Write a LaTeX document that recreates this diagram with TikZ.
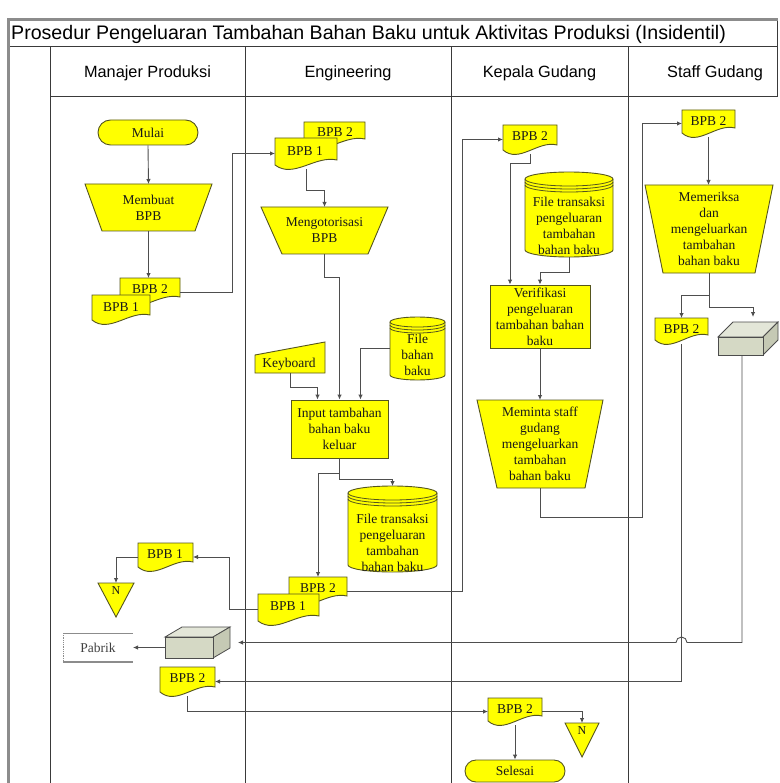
\documentclass[tikz,border=0pt]{standalone}
\usepackage{fontspec}
\setmainfont{Liberation Serif}
\newfontfamily\headfont{Liberation Sans}
\usetikzlibrary{arrows.meta,calc,fit,shapes.misc}

\definecolor{docyellow}{HTML}{FFFF00}
\definecolor{shapeedge}{HTML}{55551E}
\definecolor{wire}{HTML}{4E4E4E}
\definecolor{laneline}{HTML}{3A3A3A}
\definecolor{framegray}{HTML}{8C8C8C}
\definecolor{boxfront}{HTML}{D5D9C5}
\definecolor{boxtop}{HTML}{E3E6D8}
\definecolor{boxside}{HTML}{C5C9B4}

\tikzset{
  fig/.style={draw=shapeedge, line width=0.9pt, fill=docyellow},
  edge/.style={draw=shapeedge, line width=0.8pt},
  holder/.style={inner sep=0pt, outer sep=0pt, draw=none},
  txt/.style={font=\fontsize{13.5}{16}\selectfont, align=center, inner sep=0pt, text=black!90},
  flow/.style={draw=wire, line width=0.9pt, -{Latex[length=5pt,width=4.5pt]}},
  terminal/.style={rounded rectangle, fig, txt, minimum width=100pt, minimum height=25pt},
  process/.style={rectangle, fig, txt},
  lane/.style={draw=laneline, line width=1pt},
  border/.style={draw=framegray, line width=3pt},
  headtxt/.style={font=\headfont\fontsize{16.3}{18}\selectfont, inner sep=0pt},
  boxedge/.style={draw=black!70, line width=0.8pt},
}

% document symbol: name, x1, y1, x2, y2 (left lower corner), text x, text y, text
\newcommand\docsym[8]{%
  \path[fig] (#2,#3) -- (#4,#3) -- (#4,{#5-5})
    .. controls ({#4-0.35*(#4-#2)},{#5-10}) and ({#2+0.3*(#4-#2)},{#5+14}) .. (#2,#5) -- cycle;
  \node[holder, fit={(#2,#3) (#4,{#5+4})}] (#1) {};
  \node[txt] (#1-t) at (#6,#7) {#8};
}

% manual operation: name, top-left x, top-right x, top y, bottom-left x, bottom-right x, bottom y, text
\newcommand\manop[8]{%
  \path[fig] (#2,#4) -- (#3,#4) -- (#6,#7) -- (#5,#7) -- cycle;
  \node[holder, fit={(#2,#4) (#3,#7)}] (#1) {};
  \node[txt] (#1-t) at (#1.center) {#8};
}

% disk storage: name, x1, x2, top y, bottom y, end radius, text y, text
\newcommand\drum[8]{%
  \pgfmathsetmacro\drumrx{(#3-#2)/2}%
  \path[fig] (#2,{#4+#6}) -- (#2,{#5-#6})
    arc[start angle=180, end angle=360, x radius=\drumrx pt, y radius=#6pt]
    -- (#3,{#4+#6})
    arc[start angle=0, end angle=180, x radius=\drumrx pt, y radius=#6pt] -- cycle;
  \draw[edge] (#2,{#4+#6}) arc[start angle=180, end angle=360, x radius=\drumrx pt, y radius=#6pt];
  \draw[edge] (#2,{#4+#6+3}) arc[start angle=180, end angle=360, x radius=\drumrx pt, y radius=#6pt];
  \draw[edge] (#2,{#4+#6+6}) arc[start angle=180, end angle=360, x radius=\drumrx pt, y radius=#6pt];
  \node[holder, fit={(#2,#4) (#3,#5)}] (#1) {};
  \node[txt] (#1-t) at ({(#2+#3)/2},#7) {#8};
}

% shipped goods box: name, front x1, y1, x2, y2, depth x, depth y
\newcommand\goodsbox[7]{%
  \path[boxedge, fill=boxtop] (#2,#3) -- ({#2+#6},{#3-#7}) -- ({#4+#6},{#3-#7}) -- (#4,#3) -- cycle;
  \path[boxedge, fill=boxside] (#4,#3) -- ({#4+#6},{#3-#7}) -- ({#4+#6},{#5-#7}) -- (#4,#5) -- cycle;
  \path[boxedge, fill=boxfront] (#2,#3) rectangle (#4,#5);
}

\begin{document}
\begin{tikzpicture}[x=1pt,y=-1pt]
\useasboundingbox (0,0) rectangle (779,783);
\fill[white] (0,0) rectangle (779,783);

% ---------- table frame ----------
\draw[lane] (8,47) -- (777,47);
\draw[lane] (50,97) -- (777,97);
\draw[lane] (777,20) -- (777,97);
\foreach \lx in {50,245,451,628} \draw[lane] (\lx,47) -- (\lx,783);
\draw[border] (8,783) -- (8,20) -- (778,20);

\node[headtxt, font=\headfont\fontsize{19.6}{22}\selectfont, anchor=west] (title) at (11,34)
  {Prosedur Pengeluaran Tambahan Bahan Baku untuk Aktivitas Produksi (Insidentil)};
\node[headtxt] (hManajer) at (147.5,73) {Manajer Produksi};
\node[headtxt] (hEng) at (348,73) {Engineering};
\node[headtxt] (hKepala) at (539.5,73) {Kepala Gudang};
\node[headtxt] (hStaff) at (715,73) {Staff Gudang};

% ---------- Manajer Produksi ----------
\node[terminal] (mulai) at (148,132.5) {Mulai};
\manop{membuat}{85}{212}{184}{102}{195}{231}{Membuat\\BPB}
\docsym{mBPB2}{120}{278}{180}{302}{150}{289}{BPB 2}
\docsym{mBPB1}{92}{295}{150}{320}{121}{307}{BPB 1}

\docsym{mBPB1l}{138}{543}{193}{567}{165}{554}{BPB 1}
\path[fig] (98,583) -- (134,583) -- (116,617) -- cycle;
\node[holder, fit={(98,583) (134,617)}] (nA) {};
\node[txt, font=\fontsize{12}{14}\selectfont] (nA-t) at (116,591) {N};

\goodsbox{mCubeShape}{165}{637}{213}{658}{17}{10}
\node[holder, fit={(165,627) (238,658)}] (mCube) {};

\draw[draw=framegray, line width=0.9pt] (63,633) -- (133,633);
\draw[draw=framegray, line width=2pt] (63,662) -- (133,662);
\draw[draw=framegray, line width=0.8pt, densely dotted] (63,633) -- (63,662);
\node[holder, fit={(63,633) (133,662)}] (pabrik) {};
\node[txt, text=black!75] (pabrik-t) at (pabrik.center) {Pabrik};

\docsym{mBPB2l}{160}{667}{215}{692}{187.5}{678}{BPB 2}

% ---------- Engineering ----------
\docsym{eBPB2}{304}{122}{365}{144}{335}{132}{BPB 2}
\docsym{eBPB1}{275}{138}{337}{165}{305}{151}{BPB 1}
\manop{otor}{261}{388}{207}{282}{368}{254}{Mengotorisasi\\BPB}

\path[fig] (255,355) -- (325,342) -- (325,373) -- (255,373) -- cycle;
\node[holder, fit={(255,342) (325,373)}] (kbd) {};
\node[txt] (kbd-t) at (289,364) {Keyboard};

\drum{fileB}{390}{445}{317}{380}{5}{355}{File\\bahan\\baku}
\node[process, minimum width=97pt, minimum height=58pt] (input) at (339.5,429)
  {Input tambahan\\bahan baku\\keluar};
\drum{fileTE}{348}{437}{486}{572}{7}{543}{File transaksi\\pengeluaran\\tambahan\\bahan baku}

\docsym{eBPB2l}{289}{577}{347}{601}{318}{588}{BPB 2}
\docsym{eBPB1l}{258}{594}{319}{621}{288}{606}{BPB 1}

% ---------- Kepala Gudang ----------
\docsym{kBPB2}{503}{125}{557}{150}{530}{136}{BPB 2}
\drum{fileTK}{525}{613}{172}{257}{7}{226}{File transaksi\\pengeluaran\\tambahan\\bahan baku}
\node[process, minimum width=100pt, minimum height=63pt] (verif) at (540,316.5)
  {Verifikasi\\pengeluaran\\tambahan bahan\\baku};
\manop{meminta}{477}{603}{400}{497}{585}{488}{Meminta staff\\gudang\\mengeluarkan\\tambahan\\bahan baku}

\docsym{kBPB2l}{488}{698}{542}{721}{515}{709}{BPB 2}
\path[fig] (565,723) -- (599,723) -- (582,757) -- cycle;
\node[holder, fit={(565,723) (599,757)}] (nB) {};
\node[txt, font=\fontsize{12}{14}\selectfont] (nB-t) at (582,731) {N};
\node[terminal, minimum width=100pt, minimum height=22pt] (selesai) at (515,771) {Selesai};

% ---------- Staff Gudang ----------
\docsym{sBPB2}{682}{110}{735}{133}{708.5}{121}{BPB 2}
\manop{periksa}{645}{773}{185}{663}{755}{273}{Memeriksa\\dan\\mengeluarkan\\tambahan\\bahan baku}
\docsym{sBPB2b}{655}{318}{708}{340}{681.5}{329}{BPB 2}
\goodsbox{sCubeShape}{718}{337}{763}{355}{15}{15}
\node[holder, fit={(718,317) (778,355)}] (sCube) {};

% ---------- connectors ----------
\draw[flow] (mulai.south) -- (membuat.north);
\draw[flow] (membuat.south) -- (membuat.south |- mBPB2.north);
\draw[flow] (mBPB2.east) -- ++(52,0) |- (eBPB1.west);
\draw[flow] (eBPB1.south) -- ++(0,21) -| (otor.north);
\draw[flow] (otor.south) -- ++(0,23) -| (input.north);
\draw[flow] (kbd.south) -- ++(0,14) -| ([xshift=-22pt]input.north);
\draw[flow] (fileB.west) -| ([xshift=21pt]input.north);
\draw[flow] (input.south) -- ++(0,21) -| (fileTE.north);
\draw[flow] ([yshift=-15pt]input.south) -| (eBPB2l.north);
\draw[flow] (eBPB1l.west) -- ++(-29,0) |- (mBPB1l.east);
\draw[flow] (mBPB1l.west) -| (nA.north);
\draw[flow] (eBPB2l.east) -- ++(115,0) |- (kBPB2.west);
\draw[flow] (kBPB2.south) -- ++(0,9) -| ([xshift=-30pt]verif.north);
\draw[flow] (fileTK.south) -- ++(0,15) -| (verif.north);
\draw[flow] (verif.south) -- (meminta.north);
\draw[flow] (meminta.south) -- ++(0,29) -| ([xshift=-40pt]sBPB2.west) -- (sBPB2.west);
\draw[flow] (sBPB2.south) -- (sBPB2.south |- periksa.north);
\draw[flow] (periksa.south) -- ++(0,22) -| (sBPB2b.north);
\draw[flow] (periksa.south) -- ++(0,34) -| ([xshift=5pt]sCube.north);
\draw[flow] ([xshift=-6pt]sCube.south) |- ($(sBPB2b.south |- mCube.east)+(5.5,0)$)
  arc[start angle=0, end angle=180, radius=5.5pt] -- (mCube.east);
\draw[flow] (sBPB2b.south) |- (mBPB2l.east);
\draw[flow] (mCube.west |- pabrik.east) -- (pabrik.east);
\draw[flow] (mBPB2l.south) |- (kBPB2l.west);
\draw[flow] (kBPB2l.east) -| (nB.north);
\draw[flow] (kBPB2l.south) -- (selesai.north);
\end{tikzpicture}
\end{document}
